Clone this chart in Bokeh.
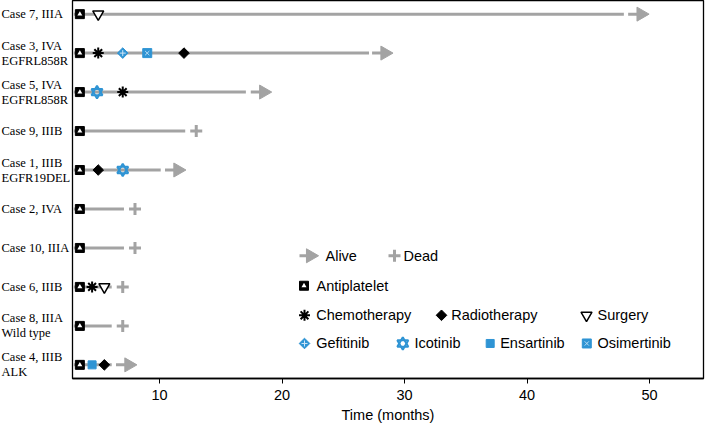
import numpy as np
from bokeh.plotting import figure
from bokeh.layouts import row as brow
from bokeh.models import Range1d, FixedTicker
from bokeh.core.properties import value
from bokeh.embed import file_html
from bokeh.resources import INLINE

# ---------------- data (rows bottom -> top) ----------------
case_ids = ["Case 4", "Case 8", "Case 6", "Case 10", "Case 2",
            "Case 1", "Case 9", "Case 5", "Case 3", "Case 7"]
case_stage = ["IIIB", "IIIA", "IIIB", "IIIA", "IVA",
              "IIIB", "IIIB", "IVA", "IVA", "IIIA"]
case_mutation = ["ALK", "Wild type", "", "", "",
                 "EGFR19DEL", "", "EGFRL858R", "EGFRL858R", ""]

follow_start = [3.0, 3.0, 3.0, 3.0, 3.0, 3.0, 3.0, 3.0, 3.0, 3.0]
follow_end = [6.1, 6.1, 6.1, 7.1, 7.1, 10.1, 12.1, 17.05, 27.1, 47.9]
outcome = ["Alive", "Dead", "Dead", "Dead", "Dead",
           "Alive", "Dead", "Alive", "Alive", "Alive"]
outcome_time = [7.5, 7.0, 7.0, 8.0, 8.0, 11.5, 13.0, 18.5, 28.4, 49.3]

antiplatelet_cases = case_ids
antiplatelet_time = [3.5, 3.5, 3.5, 3.5, 3.5, 3.5, 3.5, 3.5, 3.5, 3.5]
chemo_cases = ["Case 3", "Case 5", "Case 6"]
chemo_time = [5.0, 7.0, 4.5]
radio_cases = ["Case 3", "Case 1", "Case 4"]
radio_time = [12.0, 5.0, 5.5]
surgery_cases = ["Case 7", "Case 6"]
surgery_time = [5.0, 5.5]
gefitinib_cases = ["Case 3"]
gefitinib_time = [7.0]
icotinib_cases = ["Case 5", "Case 1"]
icotinib_time = [4.9, 7.0]
ensartinib_cases = ["Case 4"]
ensartinib_time = [4.5]
osimertinib_cases = ["Case 3"]
osimertinib_time = [9.0]

x_ticks = [10, 20, 30, 40, 50]

# legend layout (in reference-frame pixel units: 0..631 wide, 0..381 tall from top)
legend_names = ["Alive", "Dead", "Antiplatelet", "Chemotherapy", "Radiotherapy",
                "Surgery", "Gefitinib", "Icotinib", "Ensartinib", "Osimertinib"]
legend_mark_x = [238, 322, 231.5, 232, 369, 514, 232, 330.3, 417.7, 514.3]
legend_text_x = [253, 331, 244, 243.7, 378.7, 525, 243.7, 342, 427.7, 525]
legend_y = [257.3, 257.3, 287.5, 317.3, 317.3, 317.3, 345.7, 345.7, 345.7, 345.7]

BLUE = "#2f94d4"
GRAY = "#a3a3a3"
SANS = "Liberation Sans"
SERIF = "Liberation Serif"
FRAME_H = 378
LEFT_W = 71

row_of = {c: i + 1 for i, c in enumerate(case_ids)}
X0, X1 = 2.9, 54.4
yr = Range1d(0.65, 10.35)

# ---------------- main plot ----------------
p = figure(width=705 - LEFT_W, frame_height=FRAME_H, output_backend="svg",
           toolbar_location=None, x_range=Range1d(X0, X1), y_range=yr,
           min_border_left=1, min_border_right=2, min_border_top=0,
           min_border_bottom=0)
p.extra_x_ranges = {"lx": Range1d(0, 631)}
p.extra_y_ranges = {"ly": Range1d(381, 0)}
p.xgrid.visible = False
p.ygrid.visible = False
p.yaxis.visible = False
p.outline_line_color = "black"
p.outline_line_width = 1.3

ax = p.xaxis[0]
ax.ticker = FixedTicker(ticks=x_ticks)
ax.axis_label = "Time (months)"
ax.axis_label_text_font = SANS
ax.axis_label_text_font_style = "normal"
ax.axis_label_text_font_size = "14.5px"
ax.axis_label_text_color = "black"
ax.axis_label_standoff = 4
ax.major_label_text_font = SANS
ax.major_label_text_font_size = "14.5px"
ax.major_label_text_color = "black"
ax.major_label_standoff = 6
ax.major_tick_in = 0
ax.major_tick_out = 5
ax.minor_tick_line_color = None
ax.axis_line_width = 1.3
ax.axis_line_color = "black"
ax.major_tick_line_color = "black"

ys = [row_of[c] for c in case_ids]

# follow-up lines
p.segment(x0=follow_start, y0=ys, x1=follow_end, y1=ys, line_color=GRAY, line_width=3)


def draw_marks(kind, xs, yv, stem=None, **rn):
    if kind == "Alive":
        s0, s1 = stem
        p.segment(x0=[x + s0 for x in xs], y0=yv, x1=[x + s1 for x in xs], y1=yv,
                  line_color=GRAY, line_width=3, **rn)
        p.scatter(xs, yv, marker="triangle", size=14, angle=-np.pi / 2,
                  fill_color=GRAY, line_color=GRAY, **rn)
    elif kind == "Dead":
        p.scatter(xs, yv, marker="cross", size=12, line_color=GRAY, line_width=3, **rn)
    elif kind == "Antiplatelet":
        p.scatter(xs, yv, marker="square", size=9, fill_color="black",
                  line_color="black", **rn)
        p.scatter(xs, yv, marker="triangle", size=5, fill_color="white",
                  line_color=None, **rn)
    elif kind == "Chemotherapy":
        p.scatter(xs, yv, marker="asterisk", size=11, line_color="black",
                  line_width=2, **rn)
    elif kind == "Radiotherapy":
        p.scatter(xs, yv, marker="square", size=7.5, angle=np.pi / 4,
                  fill_color="black", line_color="black", **rn)
    elif kind == "Surgery":
        p.scatter(xs, yv, marker="inverted_triangle", size=11, fill_color="white",
                  line_color="black", line_width=1.5, **rn)
    elif kind == "Gefitinib":
        p.scatter(xs, yv, marker="square", size=7.5, angle=np.pi / 4,
                  fill_color=BLUE, line_color=BLUE, **rn)
        p.scatter(xs, yv, marker="cross", size=6, line_color="#cfe6f7",
                  line_width=1, **rn)
    elif kind == "Icotinib":
        p.scatter(xs, yv, marker="triangle", size=11, fill_color=None,
                  line_color=BLUE, line_width=2, **rn)
        p.scatter(xs, yv, marker="inverted_triangle", size=11, fill_color=None,
                  line_color=BLUE, line_width=2, **rn)
    elif kind == "Ensartinib":
        p.scatter(xs, yv, marker="square", size=8, fill_color=BLUE,
                  line_color=BLUE, **rn)
    elif kind == "Osimertinib":
        p.scatter(xs, yv, marker="square", size=9, fill_color=BLUE,
                  line_color=BLUE, **rn)
        p.scatter(xs, yv, marker="x", size=6, line_color="#b9dcf3",
                  line_width=1, **rn)


# outcomes
alive_x = [t for t, o in zip(outcome_time, outcome) if o == "Alive"]
alive_y = [y for y, o in zip(ys, outcome) if o == "Alive"]
dead_x = [t for t, o in zip(outcome_time, outcome) if o == "Dead"]
dead_y = [y for y, o in zip(ys, outcome) if o == "Dead"]
draw_marks("Alive", alive_x, alive_y, stem=(-1.05, -0.3))
draw_marks("Dead", dead_x, dead_y)

# treatments
treat = [("Antiplatelet", antiplatelet_cases, antiplatelet_time),
         ("Chemotherapy", chemo_cases, chemo_time),
         ("Radiotherapy", radio_cases, radio_time),
         ("Surgery", surgery_cases, surgery_time),
         ("Gefitinib", gefitinib_cases, gefitinib_time),
         ("Icotinib", icotinib_cases, icotinib_time),
         ("Ensartinib", ensartinib_cases, ensartinib_time),
         ("Osimertinib", osimertinib_cases, osimertinib_time)]
for kind, cs, ts in treat:
    draw_marks(kind, ts, [row_of[c] for c in cs])

# legend
rn = dict(x_range_name="lx", y_range_name="ly")
for name, mx, ly in zip(legend_names, legend_mark_x, legend_y):
    draw_marks(name, [mx], [ly], stem=(-11, -4), **rn)
p.text(x=legend_text_x, y=legend_y, text=legend_names, text_font=value(SANS),
       text_font_size="14.5px", text_baseline="middle", text_align="left",
       text_color="black", **rn)

# ---------------- left label strip (case labels, serif) ----------------
lab = figure(width=LEFT_W, frame_height=FRAME_H, output_backend="svg",
             toolbar_location=None, x_range=Range1d(0, LEFT_W), y_range=yr,
             min_border_left=0, min_border_right=0, min_border_top=0,
             min_border_bottom=0)
lab.xgrid.visible = False
lab.ygrid.visible = False
lab.xaxis.visible = False
lab.yaxis.visible = False
lab.outline_line_color = None

lab_text, lab_y, lab_off = [], [], []
for c, st, mu in zip(case_ids, case_stage, case_mutation):
    first = f"{c}, {st}"
    if mu:
        lab_text += [first, mu]
        lab_y += [row_of[c], row_of[c]]
        lab_off += [-7.5, 7.5]
    else:
        lab_text.append(first)
        lab_y.append(row_of[c])
        lab_off.append(0)
lab.text(x=[1] * len(lab_text), y=lab_y, y_offset=lab_off, text=lab_text,
         text_font=value(SERIF), text_font_size="12.5px", text_baseline="middle",
         text_align="left", text_color="black")

layout = brow(lab, p)
open("out.html", "w").write(file_html(layout, INLINE))
